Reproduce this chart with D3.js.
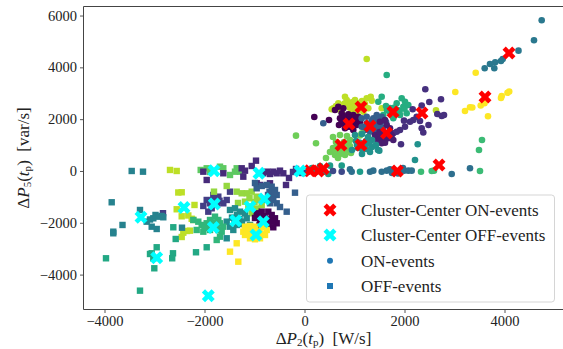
<!DOCTYPE html>
<html><head><meta charset="utf-8">
<script src="https://cdn.jsdelivr.net/npm/d3@7"></script>
<style>
body{margin:0;background:#fff}
svg{display:block}
text{font-family:"Liberation Serif",Tinos,"DejaVu Serif",serif;fill:#222}
</style>
</head><body>
<svg id="chart" width="563" height="349"></svg>
<script>
// ---------------- data ----------------
const xTicks = [-4000, -2000, 0, 2000, 4000];
const yTicks = [-4000, -2000, 0, 2000, 4000, 6000];
const legendLabels = ["Cluster-Center ON-events", "Cluster-Center OFF-events", "ON-events", "OFF-events"];

// ON-events: [ΔP2, ΔP5, cluster]
const onEvents = [
 [4744,5817,0],[4590,5045,0],[4280,4644,0],[3964,4323,0],[3930,4246,0],[3814,4196,0],[3710,4130,0],[3796,3964,0],[3604,3964,0],
 [3424,3794,1],[3016,3049,1],[3210,2316,1],[3310,2459,1],[3356,2451,1],[3524,2528,1],[3600,2613,1],[3670,2111,1],[3930,2818,1],[3944,2895,1],[4060,3019,1],[4094,3069,1],
 [630,2509,2],[676,2613,2],[810,2868,2],[844,2741,2],[910,2548,2],[1010,2741,2],[1076,2613,2],[1210,2586,2],[1244,2806,2],[1324,2868,2],[1344,2714,2],[1276,2420,2],[1176,2289,2],[1044,2289,2],[944,2355,2],[744,2289,2],[644,2382,2],[576,2420,2],[1544,2420,2],[1244,4323,2],[2630,2343,2],[544,2382,2],[720,2540,2],[950,2650,2],[1150,2700,2],[800,2600,2],[1000,2500,2],[1150,2450,2],[900,2450,2],[700,2420,2],
 [1476,2675,3],[1544,2868,3],[1644,3706,3],[1844,2613,3],[1944,2806,3],[2010,2675,3],[1976,2482,3],[2076,2548,3],[2044,2227,3],[1910,2162,3],[1776,2034,3],[1576,2162,3],[1710,2432,3],[1870,2355,3],[1630,2509,3],[1700,2300,3],[1800,2450,3],[1900,2300,3],[1650,2350,3],[2000,2400,3],
 [2416,3154,4],[2730,2768,4],[2496,2663,4],[2344,2528,4],[2656,2200,4],[2744,2123,4],[2790,2162,4],[2244,2096,4],[2176,1969,4],[2110,1903,4],[2010,1710,4],[1910,1583,4],[1844,1517,4],[2344,1648,4],[2376,1486,4],[2480,1776,4],[2310,1930,4],[1930,1031,4],[1464,1170,4],[2164,2382,4],[1990,1942,4],[1776,1455,4],
 [676,2482,5],[610,2355,5],[744,2227,5],[710,2034,5],[776,1841,5],[810,1648,5],[876,1710,5],[976,1583,5],[1044,1776,5],[1110,1903,5],[1076,2096,5],[976,2162,5],[876,2189,5],[810,2096,5],[910,1969,5],[1010,1969,5],[776,2420,5],[690,1776,5],[490,1969,5],[196,2084,5],[800,1900,5],[900,2050,5],[950,1850,5],[850,1800,5],[1000,2050,5],[740,1950,5],[920,1700,5],
 [1144,2034,6],[1244,2096,6],[1376,2034,6],[1476,1969,6],[1510,1776,6],[1410,1583,6],[1310,1517,6],[1210,1583,6],[1144,1710,6],[1444,2162,6],[1544,2096,6],[1344,1841,6],[1244,1841,6],[1570,1660,6],[1630,1891,6],[376,1841,6],[1300,1700,6],[1400,1800,6],[1450,1650,6],[1250,1650,6],[1350,1950,6],
 [1544,1390,7],[1710,1648,7],[1744,1390,7],[1676,1262,7],[1576,1197,7],[1476,1262,7],[1776,1197,7],[1510,1903,7],[1610,1969,7],[1644,1776,7],[1544,1069,7],[1610,1092,7],[1410,1390,7],[1600,1300,7],[1700,1500,7],[1500,1500,7],
 [570,1312,8],[710,1390,8],[850,1351,8],[910,1197,8],[630,1119,8],[790,1119,8],[910,965,8],[570,888,8],[710,811,8],[850,811,8],[610,618,8],[810,618,8],[930,695,8],[670,502,8],[510,733,8],[430,502,8],[-170,1363,8],[230,1069,8],[1144,1455,8],[1110,1370,8],[650,1000,8],[750,950,8],[850,1050,8],[600,800,8],[700,650,8],[800,750,8],
 [1010,1390,9],[1150,1428,9],[1270,1312,9],[1350,1197,9],[1030,1158,9],[1230,1158,9],[1070,888,9],[1230,849,9],[1350,926,9],[950,811,9],[1150,656,9],[1310,733,9],[1430,1004,9],[1470,811,9],[2264,1031,9],[1496,784,9],[2210,425,9],[1100,1100,9],[1200,1000,9],[1300,1050,9],[1050,1000,9],[1150,850,9],
 [910,66,10],[944,-27,10],[1310,-27,10],[1376,12,10],[1544,-27,10],[1644,12,10],[1710,66,10],[1810,-27,10],[1910,-27,10],[1990,12,10],[2076,12,10],[2144,12,10],[1750,-77,10],[1870,-97,10],[1970,116,10],[2944,-116,10],[3310,104,10],
 [410,-27,11],[476,-116,11],[510,205,11],[744,205,11],[1110,-27,11],[230,-39,11],[330,39,11],
 [744,-27,12],[570,0,12],[10,-77,12],[70,-39,12],
 [2330,-27,13],[2544,0,13],[2590,12,13],[3510,0,13],[3550,1197,13],[3490,811,13],
 [150,116,14],[310,193,14]
];

// OFF-events: [ΔP2, ΔP5, cluster]
const offEvents = [
 [-2076,39,0],[-1956,104,0],[-1690,166,0],[-1624,104,0],[-1490,-154,0],[-1390,-27,0],[-1356,104,0],[-1290,-27,0],[-1890,-39,0],
 [-2024,-27,1],[-1624,-89,1],[-1256,104,1],[-1190,12,1],[-1224,-220,1],[-970,398,1],[-1056,193,1],[-824,-89,1],[-744,-27,1],[-690,-116,1],[-624,-27,1],[-556,-89,1],[-490,12,1],[-424,-89,1],[-890,-540,1],[-690,-475,1],[-956,-475,1],[-1956,-347,1],[-370,-540,1],[-310,-270,1],
 [-230,-39,2],[-170,77,2],[-50,-77,2],
 [-2690,39,3],[-2556,0,3],[-2524,-830,3],[-2456,-822,3],[-2556,-1478,3],[-2456,-1749,3],[-2324,-1718,3],[-2256,-1845,3],[-2224,-1891,3],[-2200,-1312,3],[-2424,-2382,3],[-2350,-2316,3],[-2290,-2304,3],[-2456,-2548,3],
 [-1956,-1119,4],[-1890,-1247,4],[-1856,-1440,4],[-1924,-1571,4],[-1790,-1054,4],[-1724,-992,4],[-1624,-1247,4],[-1556,-1119,4],[-1490,-799,4],[-2024,-1351,4],[-1824,-926,4],[-2830,-1630,4],[-1850,-1150,4],[-1700,-1150,4],[-1750,-1300,4],
 [-1156,-861,5],[-1056,-799,5],[-956,-992,5],[-890,-1119,5],[-856,-1312,5],[-990,-1505,5],[-890,-1633,5],[-1056,-1633,5],[-1124,-1378,5],[-1190,-1185,5],[-1356,-799,5],[-1256,-861,5],[-1556,-579,5],[-1810,-799,5],[-1330,-1235,5],[-1000,-1200,5],[-1100,-1050,5],[-950,-1450,5],[-1050,-1450,5],
 [-956,-668,6],[-856,-579,6],[-756,-540,6],[-656,-606,6],[-590,-733,6],[-556,-926,6],[-624,-1119,6],[-690,-1247,6],[-556,-1247,6],[-490,-1390,6],[-730,-926,6],[-990,-463,6],[-356,-1571,6],[-190,-838,6],[-700,-800,6],[-650,-1000,6],[-750,-1100,6],[-600,-850,6],
 [-956,-1633,7],[-856,-1571,7],[-724,-1571,7],[-656,-1698,7],[-590,-1826,7],[-556,-2019,7],[-624,-2173,7],[-724,-2084,7],[-990,-1814,7],[-890,-1969,7],[-780,-1850,7],[-870,-1800,7],[-700,-1900,7],[-750,-2050,7],[-650,-1950,7],[-900,-2100,7],[-800,-1750,7],
 [-1490,-1505,8],[-1390,-1440,8],[-1290,-1571,8],[-1190,-1633,8],[-1156,-1826,8],[-1256,-1957,8],[-1356,-2084,8],[-1424,-2277,8],[-1490,-2150,8],[-1556,-1957,8],[-1090,-2084,8],[-1556,-2598,8],[-1350,-1700,8],[-1300,-1850,8],[-1450,-1800,8],[-1250,-2050,8],[-1400,-1950,8],
 [-2224,-1891,9],[-2124,-1957,9],[-2056,-2084,9],[-1956,-2019,9],[-1890,-1891,9],[-1790,-1764,9],[-1724,-1891,9],[-1690,-2019,9],[-1624,-2150,9],[-1656,-2343,9],[-1724,-2277,9],[-1890,-2277,9],[-2024,-2343,9],[-2156,-2277,9],[-1756,-2663,9],[-1690,-2536,9],[-1900,-2100,9],[-1800,-2000,9],[-2000,-2200,9],[-1750,-2150,9],
 [-1190,-2150,10],[-1090,-2123,10],[-990,-2150,10],[-856,-2173,10],[-756,-2277,10],[-790,-2470,10],[-890,-2598,10],[-990,-2636,10],[-1090,-2598,10],[-1190,-2470,10],[-1224,-2343,10],[-1356,-2791,10],[-1490,-3115,10],[-1324,-3501,10],[-970,-2400,10],[-900,-2350,10],[-1050,-2350,10],[-1100,-2450,10],[-850,-2450,10],[-950,-2550,10],[-1150,-2300,10],
 [-3856,-1208,11],[-3290,-1505,11],[-3640,-2084,11],[-3824,-2343,11],[-3824,-2405,11],[-3156,-1957,11],[-3090,-1872,11],[-3024,-1826,11],[-2980,-1698,11],[-2924,-1764,11],[-2856,-1737,11],[-2824,-1787,11],[-3056,-2150,11],[-2956,-2239,11],[-3456,0,11],[-3230,-27,11],[-2450,-2189,11],
 [-2956,-2945,12],[-3090,-3204,12],[-3056,-3177,12],[-3024,-3370,12],[-3004,-3756,12],[-2630,-3177,12],[-2646,-3370,12],[-3970,-3370,12],[-3290,-4620,12],[-2576,-2625,12],[-2624,-2173,12],[-2170,-3138,12],[-1956,-2945,12]
];

// cluster centres: [ΔP2, ΔP5]
const onCenters = [[4090,4555],[3610,2856],[1130,2470],[1770,2277],[2350,2239],[890,1814],[1310,1737],[1640,1468],[730,1004],[1130,1004],[1856,0],[376,89],[110,12],[2690,232],[276,0]];
const offCenters = [[-1810,12],[-910,-89],[-90,0],[-2410,-1409],[-1804,-1274],[-1090,-1378],[-804,-1081],[-824,-1958],[-1376,-1919],[-1824,-2181],[-970,-2471],[-3270,-1788],[-2956,-3347],[-1924,-4815]];

// ---------------- styling ----------------
const onTone  = [0.40,1.0,0.90,0.62,0.14,0.0,0.30,0.08,0.78,0.50,0.36,0.55,0.22,0.68,0.58];
const offTone = [0.75,0.12,0.16,0.90,0.18,0.84,0.30,0.0,0.48,0.66,1.0,0.44,0.60,0.05];
const FONT = '"Liberation Serif",Tinos,"DejaVu Serif",serif';

const M = {left: 83.5, right: 563.5, top: 6.5, bottom: 309.5};
const svg = d3.select("#chart");

const x = d3.scaleLinear().domain([-4420, 5180]).range([M.left, M.right]);
const y = d3.scaleLinear().domain([6349, -5347]).range([M.top, M.bottom]);

// axes
const axisColor = "#444";
const fmt = d => d < 0 ? "\u2212" + Math.abs(d) : String(d);
const xAxis = svg.append("g").attr("transform", `translate(0,${M.bottom})`)
  .call(d3.axisBottom(x).tickValues(xTicks).tickSize(3.5).tickPadding(2.5).tickFormat(fmt));
const yAxis = svg.append("g").attr("transform", `translate(${M.left},0)`)
  .call(d3.axisLeft(y).tickValues(yTicks).tickSize(3.5).tickPadding(3).tickFormat(fmt));
[xAxis, yAxis].forEach(g => {
  g.attr("font-family", null).attr("font-size", null);
  g.select(".domain").remove();
  g.selectAll(".tick line").attr("stroke", axisColor).attr("stroke-width", 0.9);
  g.selectAll(".tick text").attr("fill", "#333").style("font-size", "14.5px").style("font-family", FONT);
});
xAxis.selectAll(".tick text").attr("dy", "0.7em");
// spines
const spine = svg.append("g").attr("stroke", axisColor).attr("stroke-width", 1).attr("fill", "none");
spine.append("line").attr("x1", M.left).attr("x2", M.left).attr("y1", M.top).attr("y2", M.bottom);
spine.append("line").attr("x1", M.left).attr("x2", M.right).attr("y1", M.top).attr("y2", M.top);
spine.append("line").attr("x1", M.left).attr("x2", M.right).attr("y1", M.bottom).attr("y2", M.bottom);
spine.append("line").attr("x1", M.right).attr("x2", M.right).attr("y1", M.top).attr("y2", M.bottom);

// plot layer
const plot = svg.append("g");
plot.selectAll("circle.on").data(onEvents).join("circle")
  .attr("class", "on")
  .attr("cx", d => x(d[0])).attr("cy", d => y(d[1])).attr("r", 3.3)
  .attr("fill", d => d3.interpolateViridis(onTone[d[2]]));
const sq = 6.4;
plot.selectAll("rect.off").data(offEvents).join("rect")
  .attr("class", "off")
  .attr("x", d => x(d[0]) - sq / 2).attr("y", d => y(d[1]) - sq / 2)
  .attr("width", sq).attr("height", sq)
  .attr("fill", d => d3.interpolateViridis(offTone[d[2]]));

const xMark = d3.symbol().type(d3.symbolCross).size(105)();
plot.selectAll("path.onc").data(onCenters).join("path")
  .attr("d", xMark).attr("fill", "#ff0000")
  .attr("transform", d => `translate(${x(d[0])},${y(d[1])}) rotate(45)`);
plot.selectAll("path.offc").data(offCenters).join("path")
  .attr("d", xMark).attr("fill", "#00ffff")
  .attr("transform", d => `translate(${x(d[0])},${y(d[1])}) rotate(45)`);

// axis titles
function mathLabel(g, sub, unit, size) {
  const t = g.append("text").style("font-size", size + "px").style("font-family", FONT);
  const s = 2.2;
  t.append("tspan").text("\u0394");
  t.append("tspan").style("font-style", "italic").text("P");
  t.append("tspan").attr("dy", s).style("font-size", (size * 0.65) + "px").text(sub);
  t.append("tspan").attr("dy", -s).text("(");
  t.append("tspan").style("font-style", "italic").text("t");
  t.append("tspan").attr("dy", s).style("font-size", (size * 0.65) + "px").text("p");
  t.append("tspan").attr("dy", -s).text(")\u2002[" + unit + "]");
  return t;
}
const xl = mathLabel(svg.append("g"), "2", "W/s", 17);
xl.attr("text-anchor", "middle").attr("x", (M.left + M.right) / 2).attr("y", 344);
const yl = mathLabel(svg.append("g").attr("transform", `translate(29,${(M.top + M.bottom) / 2}) rotate(-90)`), "5", "var/s", 17);
yl.attr("text-anchor", "middle").attr("x", 0).attr("y", 0);

// legend
const lg = svg.append("g").attr("transform", "translate(306.5,195)");
lg.append("rect").attr("width", 248).attr("height", 107).attr("rx", 3)
  .attr("fill", "#fff").attr("fill-opacity", 0.8).attr("stroke", "#d0d0d0").attr("stroke-width", 0.9);
const rowY = [15, 40, 65.7, 91];
legendLabels.forEach((lab, i) => {
  const row = lg.append("g").attr("transform", `translate(0,${rowY[i]})`);
  if (i < 2) {
    row.append("path").attr("d", xMark).attr("fill", i === 0 ? "#ff0000" : "#00ffff")
      .attr("transform", "translate(23.5,0) rotate(45)");
  } else if (i === 2) {
    row.append("circle").attr("cx", 23.5).attr("cy", 0).attr("r", 3).attr("fill", "#1f77b4");
  } else {
    row.append("rect").attr("x", 20.5).attr("y", -3).attr("width", 6).attr("height", 6).attr("fill", "#1f77b4");
  }
  row.append("text").attr("x", 54.5).attr("dy", "0.35em").style("font-size", "17px").style("font-family", FONT).text(lab);
});
</script>
</body></html>
